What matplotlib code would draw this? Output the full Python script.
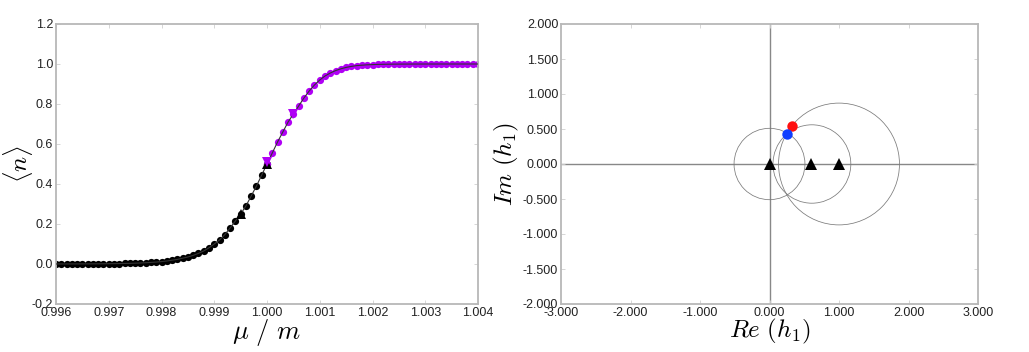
import numpy as np
import matplotlib
matplotlib.use("Agg")
import matplotlib.pyplot as plt
from matplotlib.patches import Circle

plt.rcParams['font.family'] = ['Liberation Sans', 'DejaVu Sans']
plt.rcParams['mathtext.fontset'] = 'cm'

# ---- Left panel data ----
mu = [round(0.996 + 0.0001 * i, 4) for i in range(81)]
n_vals = [
    0.0002, 0.0002, 0.0002, 0.0003, 0.0004, 0.0005, 0.0006, 0.0007, 0.0009, 0.0011,
    0.0014, 0.0017, 0.0021, 0.0027, 0.0033, 0.0041, 0.0051, 0.0063, 0.0079, 0.0098,
    0.012, 0.015, 0.019, 0.023, 0.029, 0.035, 0.043, 0.053, 0.065, 0.081,
    0.100, 0.120, 0.147, 0.180, 0.215, 0.250, 0.290, 0.340, 0.390, 0.445,
    0.500,
    0.555, 0.610, 0.660, 0.710, 0.750, 0.790, 0.830, 0.865, 0.895, 0.920,
    0.940, 0.955, 0.967, 0.976, 0.983, 0.988, 0.992, 0.994, 0.996, 0.997,
    0.998, 0.9985, 0.999, 0.9993, 0.9995, 0.9996, 0.9997, 0.9998, 0.9998, 0.9999,
    0.9999, 0.9999, 1.0, 1.0, 1.0, 1.0, 1.0, 1.0, 1.0, 1.0,
]
split = 40  # index of mu = 1.000
tri_up_mu = [0.9995, 1.0000]
tri_up_n = [0.25, 0.50]
tri_dn_mu = [1.0000, 1.0005]
tri_dn_n = [0.51, 0.75]
left_xticks = [0.996, 0.997, 0.998, 0.999, 1.000, 1.001, 1.002, 1.003, 1.004]
left_yticks = [-0.2, 0.0, 0.2, 0.4, 0.6, 0.8, 1.0, 1.2]

# ---- Right panel data ----
circle_cx = [0.0, 0.61, 1.0]
circle_r = [0.51, 0.56, 0.87]
tri_x = [0.0, 0.6, 1.0]
tri_y = [0.0, 0.0, 0.0]
red_pt = (0.32, 0.55)
blue_pt = (0.25, 0.43)
right_xticks = [-3, -2, -1, 0, 1, 2, 3]
right_yticks = [-2, -1.5, -1, -0.5, 0, 0.5, 1, 1.5, 2]

purple = '#b000f5'
spine_c = '#b8b8b8'

fig = plt.figure(figsize=(10.29, 3.52), dpi=100)
ax1 = fig.add_axes([56 / 1029, 48 / 352, 422 / 1029, 280 / 352])
ax2 = fig.add_axes([561 / 1029, 48 / 352, 417 / 1029, 280 / 352])

def style(ax):
    for s in ax.spines.values():
        s.set_color(spine_c)
        s.set_linewidth(1.3)
    ax.tick_params(direction='in', length=3, width=0.6, color='#d0d0d0',
                   top=True, right=True, labelsize=9, pad=2, labelcolor='#222222')

# Left
ax1.plot(mu, n_vals, '-', color='#333333', lw=0.8, zorder=3)
ax1.plot(mu[:split + 1], n_vals[:split + 1], 'o', color='black', ms=5.2, mew=0, zorder=2)
ax1.plot(mu[split:], n_vals[split:], 'o', color=purple, ms=5.2, mew=0, zorder=2)
ax1.plot(tri_up_mu, tri_up_n, '^', color='black', ms=7, mew=0, zorder=4)
ax1.plot(tri_dn_mu, tri_dn_n, 'v', color=purple, ms=7.5, mew=0, zorder=4)
ax1.set_xlim(0.996, 1.004)
ax1.set_ylim(-0.2, 1.2)
ax1.set_xticks(left_xticks)
ax1.set_xticklabels([f'{v:.3f}' for v in left_xticks])
ax1.set_yticks(left_yticks)
ax1.set_yticklabels([f'{v:.1f}' for v in left_yticks])
style(ax1)
ax1.set_xlabel(r'$\mu\ /\ m$', fontsize=19, labelpad=-1)
ax1.set_ylabel(r'$\langle n\rangle$', fontsize=18)
ax1.yaxis.set_label_coords(-0.05, 0.5)

# Right
ax2.axhline(0, color='#888888', lw=1.0, zorder=1)
ax2.axvline(0, color='#888888', lw=1.0, zorder=1)
for cx, r in zip(circle_cx, circle_r):
    ax2.add_patch(Circle((cx, 0), r, fill=False, ec='#7a7a7a', lw=0.55, zorder=2))
ax2.plot(tri_x, tri_y, '^', color='black', ms=8, mew=0, zorder=4)
ax2.plot([red_pt[0]], [red_pt[1]], 'o', color='#ff1010', ms=7.5, mew=0, zorder=5)
ax2.plot([blue_pt[0]], [blue_pt[1]], 'o', color='#1040ff', ms=7.5, mew=0, zorder=5)
ax2.set_xlim(-3, 3)
ax2.set_ylim(-2, 2)
ax2.set_xticks(right_xticks)
ax2.set_xticklabels([f'{v:.3f}' for v in right_xticks])
ax2.set_yticks(right_yticks)
ax2.set_yticklabels([f'{v:.3f}' for v in right_yticks])
style(ax2)
ax2.set_xlabel(r'$Re\ (h_1)$', fontsize=18, labelpad=-1)
ax2.set_ylabel(r'$Im\ (h_1)$', fontsize=18, labelpad=1)

fig.savefig('out.png', dpi=100)
